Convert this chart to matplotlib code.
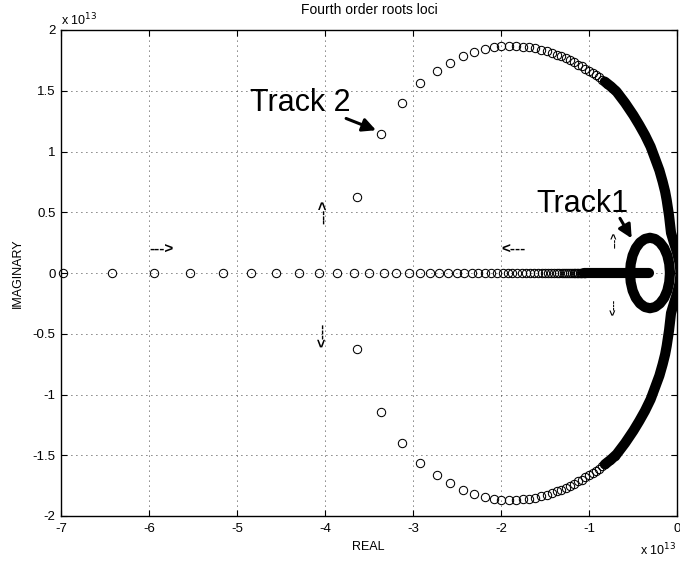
import matplotlib
matplotlib.use('Agg')
import matplotlib.pyplot as plt
from matplotlib.ticker import FixedLocator, FuncFormatter

plt.rcParams['font.family'] = ['Liberation Sans', 'DejaVu Sans']
plt.rcParams['axes.unicode_minus'] = False

# ---- data (units of 1e13) ----
# roots on the real axis (individually visible circles)
real_x = [-6.98, -6.42, -5.94, -5.53, -5.16, -4.84, -4.56, -4.30, -4.07, -3.86,
          -3.67, -3.50, -3.335, -3.19, -3.05, -2.92, -2.81, -2.70, -2.60, -2.50,
          -2.42, -2.33, -2.26, -2.18, -2.11, -2.05, -1.98, -1.92, -1.87, -1.815,
          -1.763, -1.713, -1.665, -1.62, -1.577, -1.536, -1.497, -1.461, -1.427,
          -1.395, -1.365, -1.337, -1.31, -1.284, -1.26, -1.237, -1.215, -1.194,
          -1.174, -1.155, -1.137, -1.12, -1.104, -1.089, -1.075, -1.062, -1.05]
# saturated run of circles along the real axis
real_band_x = [-1.06, -0.32]

# Track 2 (upper branch, lower branch is its conjugate)
track2_x = [-3.64, -3.36, -3.12, -2.92, -2.724, -2.576, -2.432, -2.303, -2.185,
            -2.083, -1.997, -1.909, -1.830, -1.753, -1.678, -1.610, -1.545,
            -1.481, -1.420, -1.367, -1.315, -1.265, -1.216, -1.170, -1.125,
            -1.083, -1.042, -1.0, -0.958, -0.92, -0.885, -0.85, -0.82, -0.79,
            -0.76, -0.735, -0.71]
track2_y = [0.625, 1.14, 1.40, 1.56, 1.661, 1.729, 1.782, 1.815, 1.842,
            1.856, 1.867, 1.867, 1.867, 1.864, 1.856, 1.848, 1.836,
            1.826, 1.809, 1.795, 1.782, 1.766, 1.749, 1.733, 1.716,
            1.700, 1.680, 1.664, 1.647, 1.628, 1.61, 1.59, 1.575, 1.555,
            1.537, 1.52, 1.505]
# saturated part of Track 2
track2_band_x = [-0.82, -0.75, -0.685, -0.59, -0.496, -0.43, -0.364, -0.30, -0.25,
                 -0.20, -0.163, -0.135, -0.117, -0.09, -0.068, -0.035, 0.0, 0.03, 0.04]
track2_band_y = [1.575, 1.535, 1.491, 1.40, 1.299, 1.22, 1.135, 1.04, 0.943,
                 0.845, 0.751, 0.67, 0.60, 0.47, 0.33, 0.25, 0.17, 0.08, 0.0]

# Track 1 loop (upper half)
track1_x = [-0.08, -0.088, -0.11, -0.146, -0.194, -0.248, -0.307, -0.366,
            -0.421, -0.468, -0.504, -0.526, -0.534]
track1_y = [0.0, 0.075, 0.145, 0.205, 0.251, 0.28, 0.29, 0.28,
            0.251, 0.205, 0.145, 0.075, 0.0]

xticks = [-7, -6, -5, -4, -3, -2, -1, 0]
yticks = [-2, -1.5, -1, -0.5, 0, 0.5, 1, 1.5, 2]

W, H = 680, 563
fig = plt.figure(figsize=(W / 100, H / 100), dpi=100)
L, R, T, B = 61, 677, 30, 516
ax = fig.add_axes([L / W, 1 - B / H, (R - L) / W, (B - T) / H])

mk = dict(ls='none', marker='o', ms=6.0, mfc='none', mec='k', mew=0.75, zorder=3,
          clip_on=False)
band = dict(color='k', lw=7.3, solid_capstyle='round', solid_joinstyle='round', zorder=3)

# real axis
ax.plot(real_x, [0] * len(real_x), **mk)
ax.plot(real_band_x, [0, 0], **band)
# track 2, both branches
for s in (1, -1):
    ax.plot(track2_x, [s * v for v in track2_y], **mk)
    ax.plot(track2_band_x, [s * v for v in track2_band_y], **band)
    ax.plot(track1_x, [s * v for v in track1_y], **band)

ax.set_xlim(-7, 0)
ax.set_ylim(-2, 2)
ax.xaxis.set_major_locator(FixedLocator(xticks))
ax.yaxis.set_major_locator(FixedLocator(yticks))
fmt = FuncFormatter(lambda v, p: '%g' % v)
ax.xaxis.set_major_formatter(fmt)
ax.yaxis.set_major_formatter(fmt)
ax.tick_params(direction='in', length=4, width=0.8, top=True, right=True,
               labelsize=9.5, pad=5)
ax.tick_params(axis='y', pad=4)
ax.grid(True, color='k', lw=0.6, linestyle=(0, (1, 5)))
for sp in ax.spines.values():
    sp.set_linewidth(1.0)

# direction markers
arr = dict(fontsize=11, fontweight='bold', ha='center', va='center', zorder=4)
ax.text(-5.86, 0.19, '--->', **arr)
ax.text(-1.86, 0.19, '<---', **arr)
ax.text(-4.01, 0.50, '--->', rotation=90, **arr)
ax.text(-4.02, -0.51, '<---', rotation=90, **arr)
arr2 = dict(fontsize=7.5, fontweight='bold', ha='center', va='center', zorder=4)
ax.text(-0.70, 0.27, '--->', rotation=90, **arr2)
ax.text(-0.71, -0.28, '<---', rotation=90, **arr2)

# annotations
ax.text(-4.85, 1.335, 'Track 2', fontsize=22, ha='left', va='baseline', zorder=4)
ax.text(-1.60, 0.50, 'Track1', fontsize=22, ha='left', va='baseline', zorder=4)
ax.annotate('', xy=(-3.42, 1.175), xytext=(-3.76, 1.272),
            arrowprops=dict(arrowstyle='-|>', lw=2.2, color='k', mutation_scale=20,
                            shrinkA=0, shrinkB=0), zorder=4)
ax.annotate('', xy=(-0.515, 0.285), xytext=(-0.648, 0.45),
            arrowprops=dict(arrowstyle='-|>', lw=2.2, color='k', mutation_scale=20,
                            shrinkA=0, shrinkB=0), zorder=4)

# labels
fig.text(369 / W, 1 - 10 / H, 'Fourth order roots loci', fontsize=10, ha='center', va='center')
fig.text(368 / W, 1 - 547 / H, 'REAL', fontsize=9, ha='center', va='center')
fig.text(18 / W, 1 - 273 / H, 'IMAGINARY', fontsize=9, ha='center', va='center', rotation=90)
fig.text(61 / W, 1 - 25 / H, r'x 10$^{13}$', fontsize=9, ha='left', va='baseline')
fig.text(640 / W, 1 - 555 / H, r'x 10$^{13}$', fontsize=9, ha='left', va='baseline')

fig.savefig('out.png', dpi=100)
